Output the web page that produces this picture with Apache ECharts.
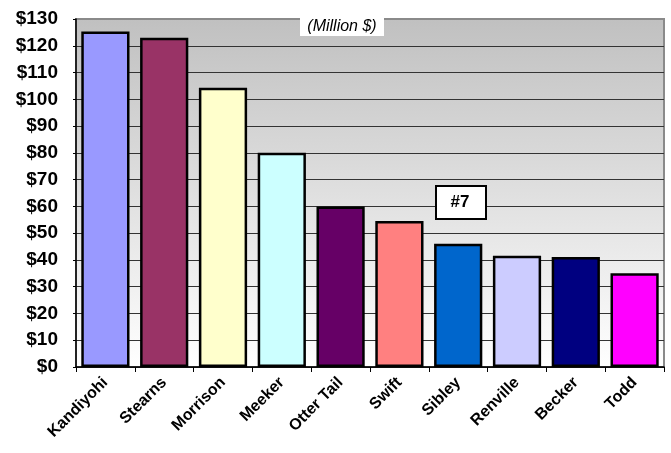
<!DOCTYPE html>
<html>
<head>
<meta charset="utf-8">
<script src="https://cdn.jsdelivr.net/npm/echarts@6/dist/echarts.min.js"></script>
<style>html,body{margin:0;padding:0;background:#fff;}#c{width:671px;height:453px;}</style>
</head>
<body>
<div id="c"></div>
<script>
const categories = ['Kandiyohi','Stearns','Morrison','Meeker','Otter Tail','Swift','Sibley','Renville','Becker','Todd'];
const values = [125.3, 123.0, 104.3, 80.0, 60.0, 54.5, 46.0, 41.6, 41.1, 35.0];
const barColors = ['#9999FF','#993366','#FFFFCC','#CCFFFF','#660066','#FF8080','#0066CC','#CCCCFF','#000080','#FF00FF'];
const yMin = 0, yMax = 130, yStep = 10;

const gridColors = [];
for (let v = yMin; v <= yMax; v += yStep) gridColors.push(v === yMax ? '#8a8a8a' : '#333333');

const chart = echarts.init(document.getElementById('c'));
chart.setOption({
  animation: false,
  backgroundColor: '#ffffff',
  grid: {
    left: 76, right: 7, top: 19, bottom: 86,
    show: true,
    borderColor: '#8a8a8a', borderWidth: 2,
    backgroundColor: new echarts.graphic.LinearGradient(0, 0, 0, 1, [
      {offset: 0, color: '#c0c0c0'},
      {offset: 1, color: '#ffffff'}
    ])
  },
  xAxis: {
    type: 'category',
    data: categories,
    axisLine: {lineStyle: {color: '#000', width: 1.5}},
    axisTick: {show: true, alignWithLabel: false, length: 5, lineStyle: {color: '#000'}},
    axisLabel: {
      rotate: 45, interval: 0, margin: 13,
      fontFamily: 'Liberation Sans, Arial, sans-serif', fontWeight: 'bold', fontSize: 16, color: '#000'
    }
  },
  yAxis: {
    type: 'value', min: yMin, max: yMax, interval: yStep,
    axisLine: {show: true, lineStyle: {color: '#000', width: 1.5}},
    axisTick: {show: true, length: 3, lineStyle: {color: '#000'}},
    axisLabel: {
      formatter: '${value}', margin: 18,
      fontFamily: 'Liberation Sans, Arial, sans-serif', fontWeight: 'bold', fontSize: 19, color: '#000'
    },
    splitLine: {show: true, lineStyle: {color: gridColors, width: 1}}
  },
  series: [{
    type: 'bar',
    data: values.map((v, i) => ({value: v, itemStyle: {color: barColors[i]}})),
    barCategoryGap: '18%',
    itemStyle: {borderColor: '#000', borderWidth: 2.5}
  }],
  graphic: [
    {
      type: 'rect', left: 300, top: 18, shape: {width: 84, height: 18},
      style: {fill: '#fff', stroke: null}, z: 100
    },
    {
      type: 'text', x: 342, y: 27, z: 101,
      style: {text: '(Million $)', font: 'italic 16px Liberation Sans, Arial, sans-serif', fill: '#000', align: 'center', verticalAlign: 'middle'}
    },
    {
      type: 'rect', left: 435, top: 185, shape: {width: 50, height: 33},
      style: {fill: '#fff', stroke: '#000', lineWidth: 2}, z: 100
    },
    {
      type: 'text', x: 460, y: 202, z: 101,
      style: {text: '#7', font: 'bold 17px Liberation Sans, Arial, sans-serif', fill: '#000', align: 'center', verticalAlign: 'middle'}
    }
  ]
});
</script>
</body>
</html>
